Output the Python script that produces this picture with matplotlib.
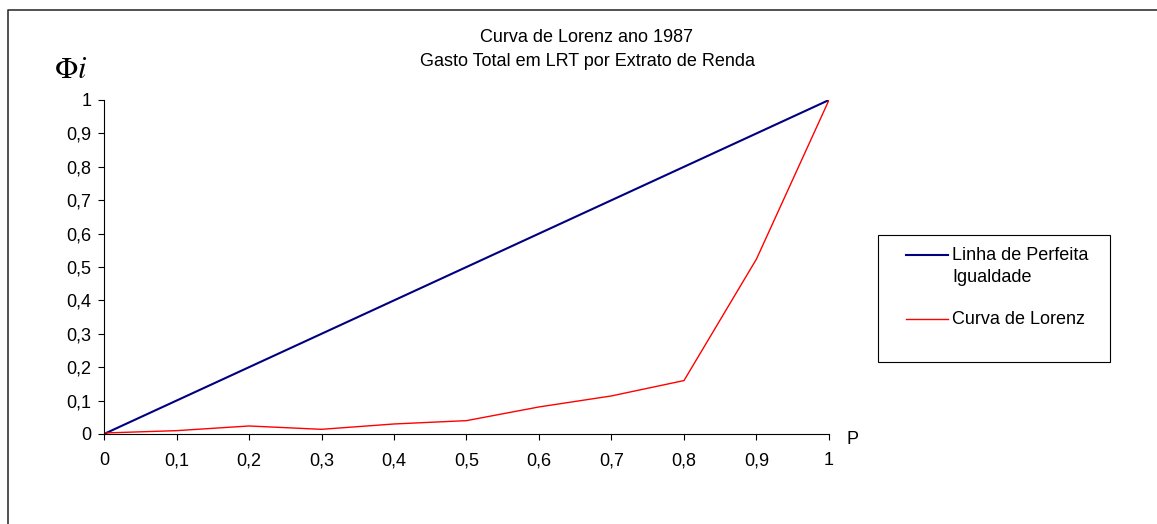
import numpy as np
import matplotlib
matplotlib.use('Agg')
import matplotlib.pyplot as plt
from matplotlib.lines import Line2D
from matplotlib.patches import Rectangle
from matplotlib.ticker import FuncFormatter

plt.rcParams['font.family'] = ['Liberation Sans', 'DejaVu Sans']
plt.rcParams['mathtext.fontset'] = 'stix'

# dados (extratos de renda acumulados)
p = [0, 0.1, 0.2, 0.3, 0.4, 0.5, 0.6, 0.7, 0.8, 0.9, 1.0]
igualdade = [0, 0.1, 0.2, 0.3, 0.4, 0.5, 0.6, 0.7, 0.8, 0.9, 1.0]
lorenz = [0.003, 0.01, 0.024, 0.014, 0.03, 0.04, 0.081, 0.114, 0.16, 0.524, 1.0]
ticks = [0, 0.1, 0.2, 0.3, 0.4, 0.5, 0.6, 0.7, 0.8, 0.9, 1.0]
nomes = ['Linha de Perfeita\nIgualdade', 'Curva de Lorenz']

W, H = 1157, 524
fs = 13
fig = plt.figure(figsize=(W / 100, H / 100), dpi=100)
ax = fig.add_axes([104 / W, 1 - 434 / H, (829 - 104) / W, (434 - 100) / H])

l1, = ax.plot(p, igualdade, color='#000080', lw=1.5)
l2, = ax.plot(p, lorenz, color='#FF0000', lw=1.0)

ax.set_xlim(0, 1)
ax.set_ylim(0, 1)
ax.set_xticks(ticks)
ax.set_yticks(ticks)
fmt = FuncFormatter(lambda v, pos: ('%g' % round(v, 1)).replace('.', ','))
ax.xaxis.set_major_formatter(fmt)
ax.yaxis.set_major_formatter(fmt)
ax.tick_params(direction='out', length=4, width=0.8, labelsize=fs, colors='black')
ax.tick_params(axis='x', pad=9)
ax.tick_params(axis='y', pad=5)
for s in ['top', 'right']:
    ax.spines[s].set_visible(False)
for s in ['left', 'bottom']:
    ax.spines[s].set_linewidth(0.8)

# titulos e rotulos dos eixos
fig.text(587 / W, 1 - 37 / H, 'Curva de Lorenz ano 1987', ha='center', va='center', fontsize=fs)
fig.text(587 / W, 1 - 62 / H, 'Gasto Total em LRT por Extrato de Renda', ha='center', va='center', fontsize=fs)
fig.text(852 / W, 1 - 440 / H, 'P', ha='center', va='center', fontsize=fs)
fig.text(71 / W, 1 - 70 / H, r'$\Phi i$', ha='center', va='center', fontsize=22)

# legenda desenhada a mao (caixa, linhas e textos)
fig.add_artist(Rectangle((878 / W, 1 - 362 / H), 232 / W, 127 / H, transform=fig.transFigure,
                         fill=False, edgecolor='black', lw=0.8))
for linha, nome, yy in zip([l1, l2], nomes, [255, 319]):
    fig.add_artist(Line2D([906 / W, 948 / W], [1 - yy / H, 1 - yy / H], transform=fig.transFigure,
                          color=linha.get_color(), lw=linha.get_linewidth()))
    for i, parte in enumerate(nome.split('\n')):
        fig.text(952 / W, 1 - (yy + 23 * i) / H, parte, ha='left', va='center', fontsize=fs)

# borda do grafico (superior e esquerda)
fig.add_artist(Line2D([8 / W, 8 / W, 1], [0, 1 - 10 / H, 1 - 10 / H], transform=fig.transFigure,
                      color='#333333', lw=1.2))

fig.savefig('out.png', dpi=100)
